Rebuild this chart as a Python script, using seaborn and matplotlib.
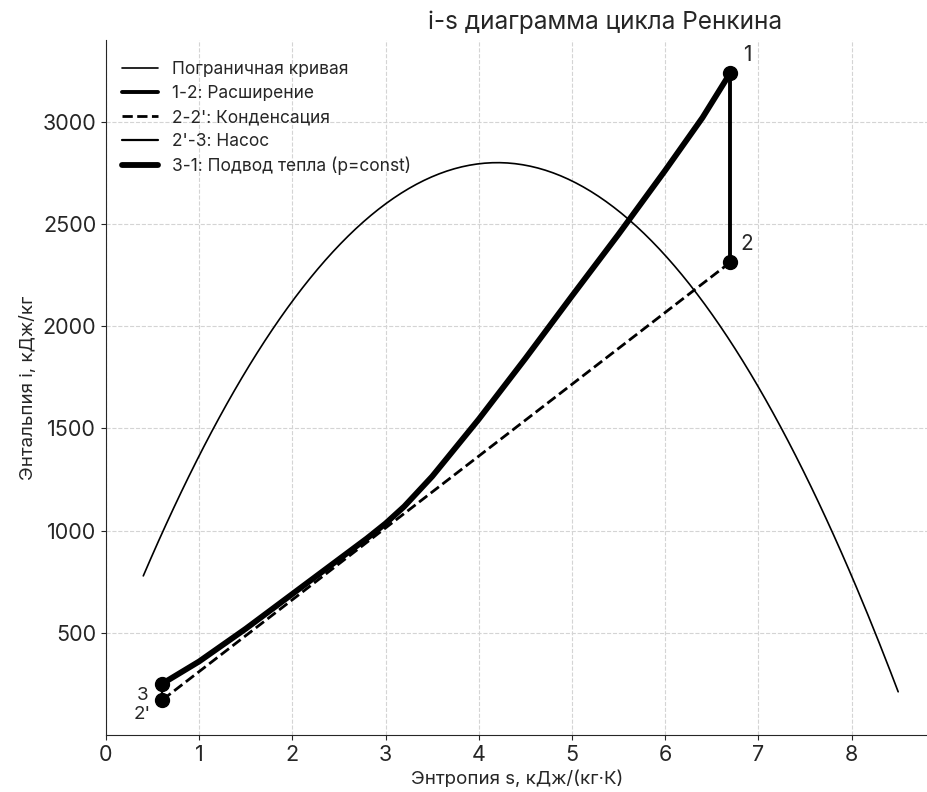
import matplotlib
matplotlib.use('Agg')
import matplotlib.pyplot as plt
import seaborn as sns
import numpy as np
import pandas as pd

# Пограничная кривая (i = 2800 - 140*(s-4.2)^2)
s_border = np.linspace(0.4, 8.5, 200)
i_border = 2800 - 140 * (s_border - 4.2) ** 2

# Точки цикла
point_names = ['1', '2', "2'", '3']
point_s = [6.7, 6.7, 0.6, 0.6]
point_i = [3240, 2313, 170, 250]

# Кривая 3-1 (подвод тепла)
heat_s = [0.6, 1.0, 1.5, 2.0, 2.5, 2.8, 3.0, 3.2, 3.5, 4.0, 4.5, 5.0, 5.5, 6.0, 6.4, 6.7]
heat_i = [250, 360, 520, 690, 860, 962, 1035, 1118, 1265, 1545, 1842, 2148, 2450, 2762, 3020, 3240]

sns.set_style('ticks', {'grid.linestyle': '--', 'grid.color': '#d4d4d4'})
plt.rcParams['font.family'] = ['Inter', 'DejaVu Sans']
plt.rcParams['axes.grid'] = True

fig = plt.figure(figsize=(9.28, 7.92), dpi=100)
ax = fig.add_axes([106 / 928, 57 / 792, 822 / 928, 695 / 792])

df_border = pd.DataFrame({'s': s_border, 'i': i_border})
sns.lineplot(data=df_border, x='s', y='i', color='black', linewidth=1.2,
             label='Пограничная кривая', ax=ax)

ax.plot([point_s[0], point_s[1]], [point_i[0], point_i[1]], color='black',
        linewidth=2.8, label='1-2: Расширение')
ax.plot([point_s[1], point_s[2]], [point_i[1], point_i[2]], color='black',
        linewidth=2, linestyle='--', label="2-2': Конденсация")
ax.plot([point_s[2], point_s[3]], [point_i[2], point_i[3]], color='black',
        linewidth=1.6, label="2'-3: Насос")
ax.plot(heat_s, heat_i, color='black', linewidth=4.2,
        label='3-1: Подвод тепла (p=const)')
ax.plot(point_s, point_i, 'o', color='black', markersize=10, zorder=5)

offsets = [(12, 13), (12, 13), (-14, -10), (-14, -8)]
for name, s, i, off in zip(point_names, point_s, point_i, offsets):
    ax.annotate(name, (s, i), textcoords='offset points', xytext=off,
                fontsize=15 if name in ('1', '2') else 13.5,
                ha='center', va='center')

ax.set_xlim(0, 8.82)
ax.set_ylim(0, 3400)
ax.set_xticks(range(0, 9))
ax.set_yticks([500, 1000, 1500, 2000, 2500, 3000])
ax.tick_params(labelsize=15.5)
ax.set_xlabel('Энтропия s, кДж/(кг·К)', fontsize=13.5)
ax.set_ylabel('Энтальпия i, кДж/кг', fontsize=13.5)
fig.text(605 / 928, 1 - 22 / 792, 'i-s диаграмма цикла Ренкина', fontsize=17.5,
         ha='center', va='center')
ax.legend(loc='upper left', frameon=False, fontsize=12.5, handlelength=2.1,
          bbox_to_anchor=(0.0, 0.992), labelspacing=0.4)
sns.despine(ax=ax)

fig.savefig('out.png', dpi=100)
